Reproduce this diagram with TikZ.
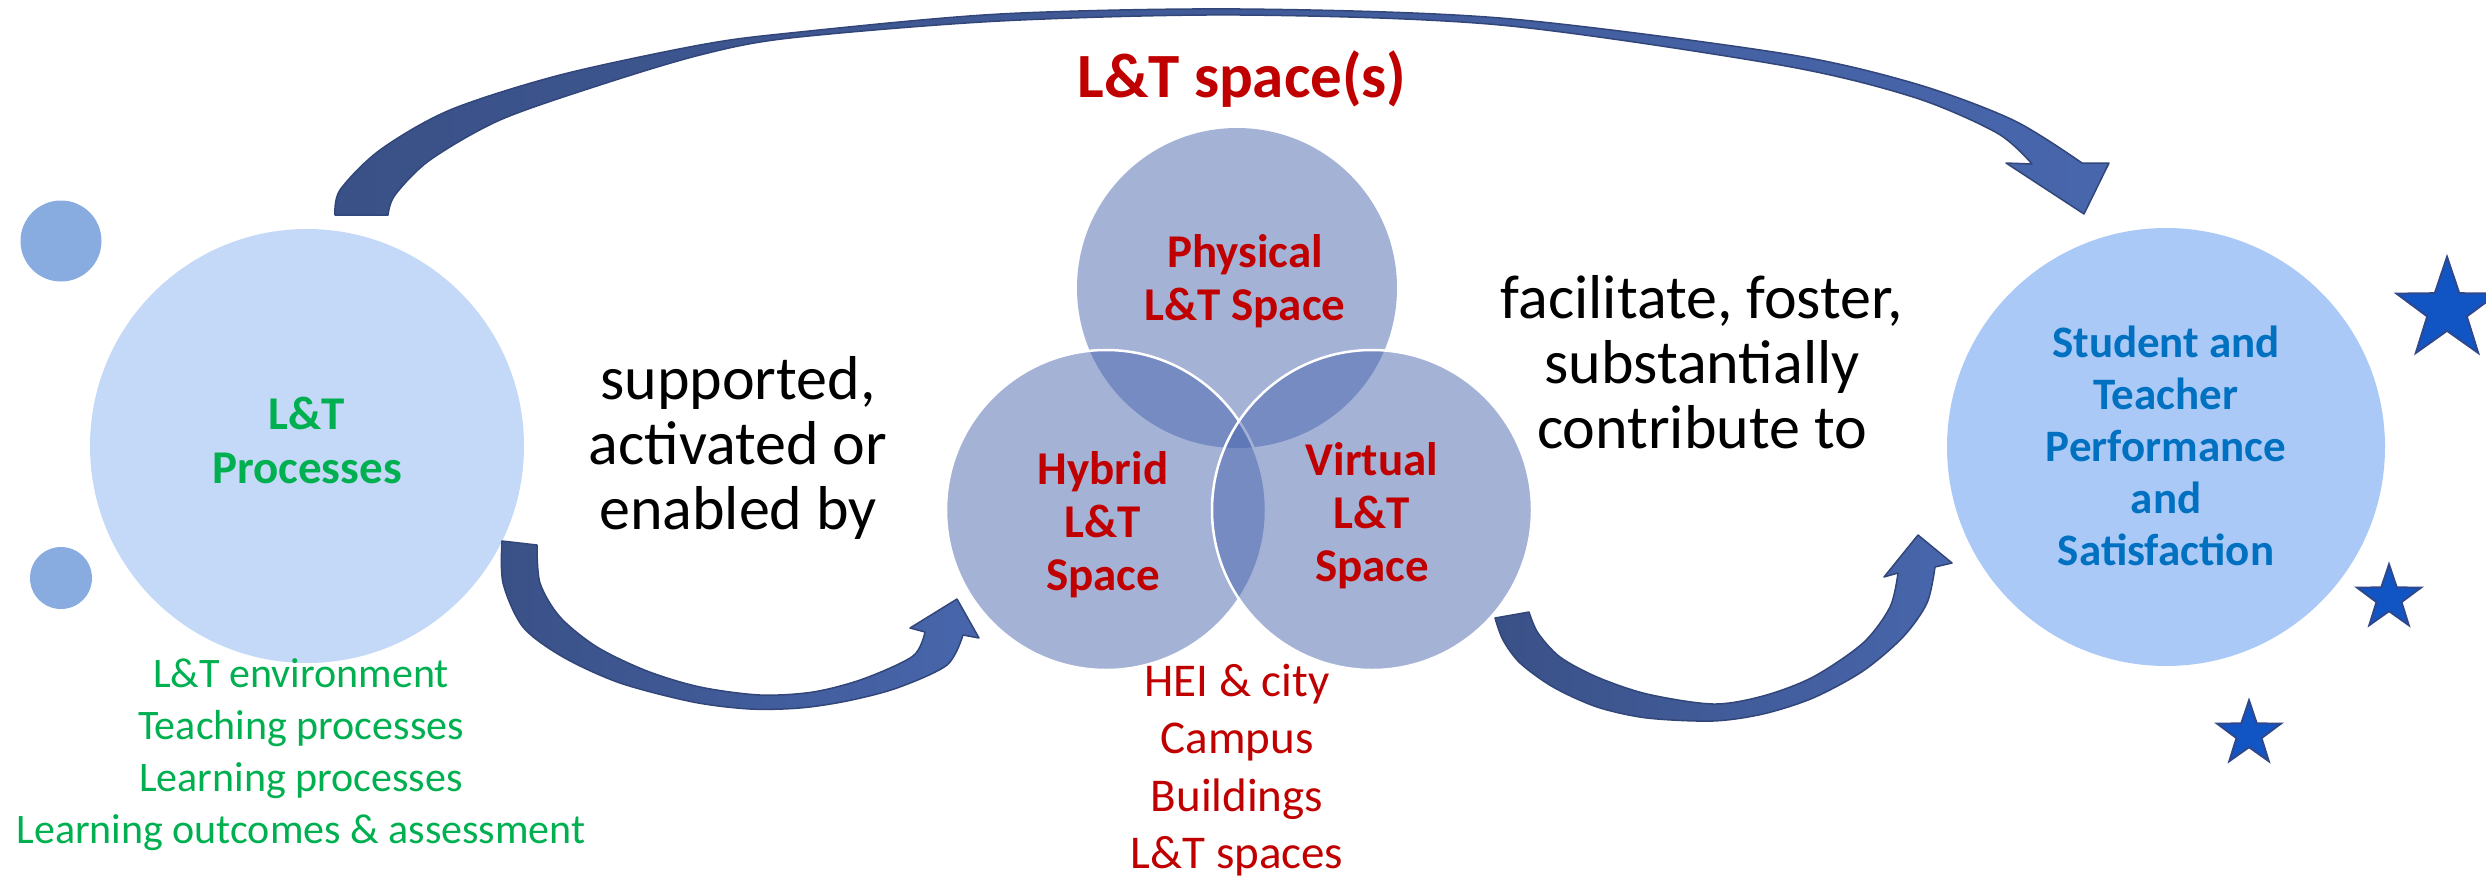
\documentclass[tikz,border=0pt]{standalone}
\usepackage{fontspec}
\setmainfont{Carlito}
\usetikzlibrary{shapes.geometric}
\definecolor{ltcircle}{RGB}{196,216,247}
\definecolor{smallc}{RGB}{136,172,224}
\definecolor{venn}{RGB}{73,101,173}
\definecolor{rightc}{RGB}{171,201,246}
\definecolor{grn}{RGB}{0,176,80}
\definecolor{dred}{RGB}{192,0,0}
\definecolor{txtblue}{RGB}{0,112,192}
\definecolor{navyA}{RGB}{58,81,135}
\definecolor{navyB}{RGB}{72,102,172}
\definecolor{navyline}{RGB}{50,70,122}
\definecolor{starfill}{RGB}{17,85,196}
\definecolor{starline}{RGB}{47,72,140}
\tikzset{
  blob/.style={circle, inner sep=0pt, draw=none},
  vennc/.style={circle, inner sep=0pt, minimum size=320pt, fill=venn, fill opacity=0.5},
  arrowband/.style={left color=navyA, right color=navyB, draw=navyline, line width=1.5pt, line join=round},
  stardeco/.style={star, star points=5, star point ratio=2.55, inner sep=0pt, fill=starfill, draw=starline, line width=2pt},
  lbl/.style={align=center, inner sep=0pt}
}
\begin{document}
\begin{tikzpicture}[x=1pt,y=-1pt]
\useasboundingbox (0,0) rectangle (2486,878);
% circles
\node[blob, fill=smallc, minimum size=81pt] (s1) at (61,241) {};
\node[blob, fill=smallc, minimum size=62pt] (s2) at (61,578) {};
\node[blob, fill=ltcircle, minimum size=434pt] (proc) at (307,446) {};
\node[blob, fill=rightc, minimum size=438pt] (perf) at (2166,447) {};
\node[vennc] (phys) at (1237,288) {};
\node[vennc, draw=white, draw opacity=1, line width=2.5pt] (hyb) at (1106,510) {};
\node[vennc, draw=white, draw opacity=1, line width=2.5pt] (virt) at (1372,510) {};
% arrows
\shadedraw[arrowband] plot[smooth] coordinates {(335,215) (340,190) (380,150) (450,110) (560,75) (700,45) (790,33) (1000,14) (1240,9) (1500,18) (1780,53) (1913,83) (2013,120) (2082,163)}
  -- (2109,163) -- (2084,214) -- (2006,163) -- (2032,164)
  -- plot[smooth] coordinates {(2032,164) (1997,133) (1913,97) (1780,65) (1500,25) (1240,15) (1000,21) (790,38) (700,55) (600,85) (500,120) (430,160) (395,195) (388,215)} -- cycle;
\shadedraw[arrowband] plot[smooth] coordinates {(502,541) (503,583) (523,627) (563,657) (620,683) (693,702) (750,709) (800,708) (847,701) (897,688) (947,665) (963,635)}
  -- (979,638) -- (957,599) -- (910,628) -- (925,632)
  -- plot[smooth] coordinates {(925,632) (913,656) (863,679) (813,692) (760,695) (700,687) (647,671) (597,647) (560,617) (540,583) (537,545)} -- cycle;
\shadedraw[arrowband] plot[smooth] coordinates {(1495,618) (1503,640) (1520,663) (1553,687) (1597,707) (1647,718) (1713,721) (1763,714) (1813,698) (1863,671) (1903,637) (1927,603) (1935,567)}
  -- (1952,563) -- (1918,535) -- (1884,577) -- (1898,573)
  -- plot[smooth] coordinates {(1898,573) (1890,607) (1863,643) (1813,677) (1763,696) (1713,704) (1647,694) (1597,677) (1560,657) (1538,633) (1529,612)} -- cycle;
% stars
\node[stardeco, minimum size=106pt] (st1) at (2447,310) {};
\node[stardeco, minimum size=67pt] (st2) at (2389,598) {};
\node[stardeco, minimum size=67pt] (st3) at (2249,734) {};
% texts
\node[anchor=base, inner sep=0pt, text=dred, font=\fontsize{63}{70}\selectfont\bfseries] (title) at (1242,97) {L\&T space(s)};
\node[lbl, text=grn, font=\fontsize{47}{54}\selectfont\bfseries] (proct) at (proc.center) [yshift=6pt] {L\&T\\Processes};
\node[lbl, font=\fontsize{62}{65}\selectfont] (sup) at (738,448) {supported,\\activated or\\enabled by};
\node[lbl, font=\fontsize{62}{65}\selectfont] (fac) at (1702,362) {facilitate, foster,\\substantially\\contribute to};
\node[lbl, text=dred, font=\fontsize{47}{53}\selectfont\bfseries] (physt) at (1245,281) {Physical\\L\&T Space};
\node[lbl, text=dred, font=\fontsize{47}{53}\selectfont\bfseries] (hybt) at (1103,525) {Hybrid\\L\&T\\Space};
\node[lbl, text=dred, font=\fontsize{47}{53}\selectfont\bfseries] (virtt) at (1372,516) {Virtual\\L\&T\\Space};
\node[lbl, text=txtblue, font=\fontsize{45}{52}\selectfont\bfseries] (perft) at (2166,446) {Student and\\Teacher\\Performance\\and\\Satisfaction};
\node[lbl, text=grn, font=\fontsize{42}{52}\selectfont] (glist) at (301,755) {L\&T environment\\Teaching processes\\Learning processes\\Learning outcomes \& assessment};
\node[lbl, text=dred, font=\fontsize{47}{57.5}\selectfont] (rlist) at (1237,770) {HEI \& city\\Campus\\Buildings\\L\&T spaces};
\end{tikzpicture}
\end{document}
